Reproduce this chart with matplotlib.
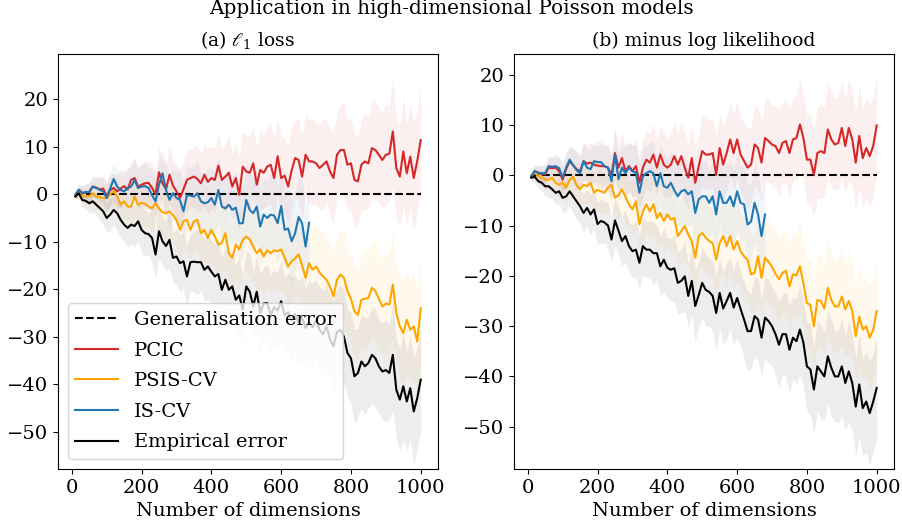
import numpy as np
import matplotlib
matplotlib.use('Agg')
import matplotlib.pyplot as plt

dims = list(range(10, 1001, 10))
dims_is = list(range(10, 681, 10))

# (a) l1 loss
l1_pcic = [
    -0.3, 0.9, 0.3, 0.3, 0.5, 1.6, 1.4, 1.0, 1.2, -0.4,
    0.9, 1.3, 0.6, 1.2, 1.7, 1.0, 3.0, 3.4, 1.6, 2.0,
    2.3, 2.4, 1.3, 0.0, 4.6, 2.3, 1.0, 4.1, 1.8, 0.6,
    -0.8, 1.0, 3.0, 3.4, 3.7, 3.2, 2.3, 4.1, 2.6, 3.4,
    3.0, 6.0, 3.0, 3.7, 4.5, 1.6, 3.4, -0.1, 5.8, 4.8,
    4.5, 6.5, 2.0, 5.1, 4.5, 5.8, 6.2, 3.4, 8.0, 3.4,
    3.9, 1.6, 5.0, 7.6, 7.2, 3.7, 8.3, 6.9, 6.9, 6.5,
    5.5, 6.2, 6.9, 4.8, 3.4, 8.3, 9.3, 9.3, 6.2, 6.5,
    3.0, 2.7, 6.2, 6.9, 6.5, 9.7, 9.3, 8.3, 7.2, 8.3,
    8.5, 13.2, 5.5, 3.7, 9.0, 4.4, 7.9, 3.4, 7.0, 11.4]
l1_psis = [
    -0.1, 0.6, -0.3, -0.5, -0.4, 0.2, -0.5, -0.6, -0.8, -0.8,
    0.0, 0.6, -0.4, -2.2, -1.5, -2.6, -2.6, -0.5, -2.2, -1.8,
    -2.0, -2.6, -3.0, -1.9, -3.0, -3.8, -4.0, -3.6, -4.4, -5.4,
    -7.5, -5.7, -5.4, -7.5, -5.7, -5.4, -8.2, -7.5, -9.2, -7.5,
    -8.9, -10.6, -10.2, -8.2, -12.4, -13.4, -10.6, -11.6, -9.6, -8.9,
    -9.5, -11.0, -12.4, -11.6, -13.1, -11.8, -12.4, -11.8, -12.0, -11.6,
    -13.4, -15.2, -14.1, -13.5, -12.6, -15.0, -17.6, -14.5, -15.9, -15.2,
    -16.5, -17.3, -18.0, -19.5, -21.5, -18.0, -16.9, -17.6, -20.4, -22.0,
    -24.6, -25.4, -22.2, -22.0, -21.8, -19.7, -20.4, -22.0, -23.6, -23.0,
    -23.2, -19.0, -25.0, -27.8, -29.2, -26.4, -28.5, -27.8, -31.0, -24.0]
l1_iscv = [
    -0.1, 0.9, 0.2, 0.5, 0.4, 1.6, 1.3, 0.9, 0.6, -0.8,
    1.2, 3.2, 1.6, 0.9, 0.6, 1.3, 1.6, 3.0, 1.3, 1.6,
    1.7, 1.3, -0.2, -1.5, 2.0, 4.4, 0.9, -1.2, 0.2, -0.8,
    -1.2, -3.6, -0.2, -0.3, -0.5, 0.2, -1.5, -1.9, -1.7, -0.8,
    -2.2, 0.9, -2.6, -3.0, -2.2, -3.3, -2.8, -6.1, -6.1, -1.2,
    -3.3, -4.0, -2.6, -6.8, -4.3, -5.0, -4.3, -4.5, -6.1, -2.5,
    -7.5, -7.2, -9.9, -8.2, -4.8, -6.1, -11.0, -6.0]
l1_emp = [
    -0.5, 0.2, -1.2, -1.4, -1.9, -1.5, -2.2, -2.9, -3.6, -5.0,
    -4.3, -3.3, -4.0, -5.4, -6.4, -7.1, -6.4, -6.7, -5.7, -7.5,
    -8.2, -8.4, -9.2, -12.7, -7.8, -9.9, -10.9, -9.6, -13.4, -13.1,
    -14.5, -14.1, -17.3, -14.3, -14.2, -14.3, -14.3, -15.9, -15.2, -16.3,
    -17.3, -16.8, -20.1, -18.0, -20.1, -19.4, -22.2, -21.3, -24.3, -19.4,
    -20.5, -23.6, -20.5, -25.0, -23.0, -22.9, -25.3, -23.8, -24.5, -22.5,
    -25.5, -24.8, -26.5, -25.2, -27.0, -26.0, -28.2, -26.8, -28.0, -26.5,
    -28.5, -29.5, -27.8, -30.5, -32.0, -29.0, -28.5, -30.0, -33.4, -34.5,
    -38.3, -37.6, -35.2, -36.2, -35.5, -33.8, -34.5, -36.2, -37.3, -37.0,
    -37.6, -33.8, -41.1, -43.2, -40.4, -43.6, -40.8, -45.7, -42.9, -39.0]
l1_spread = [
    0.8, 1.2, 1.5, 1.8, 2.0, 2.3, 2.2, 2.6, 2.8, 3.0,
    3.4, 3.1, 3.6, 3.9, 3.5, 4.2, 4.0, 4.4, 4.1, 4.6,
    4.8, 4.5, 5.2, 4.9, 5.6, 5.0, 5.4, 5.9, 5.3, 5.7,
    6.2, 5.8, 6.5, 6.0, 6.4, 6.9, 6.1, 6.6, 7.0, 6.5,
    6.8, 7.3, 6.7, 7.1, 7.6, 7.0, 7.4, 7.9, 7.2, 7.6,
    8.0, 7.4, 7.8, 8.3, 7.6, 8.1, 8.5, 7.8, 8.2, 8.7,
    8.0, 8.4, 8.9, 8.2, 8.6, 9.1, 8.4, 8.8, 9.2, 8.6,
    9.0, 9.5, 8.8, 9.2, 9.7, 9.0, 9.4, 9.9, 9.2, 9.6,
    10.0, 9.4, 9.8, 10.3, 9.6, 10.0, 10.5, 9.8, 10.2, 10.7,
    10.0, 11.5, 10.4, 10.8, 11.2, 10.5, 10.9, 11.4, 10.7, 11.0]

# (b) minus log likelihood
ll_pcic = [
    -0.2, 0.8, 0.5, 0.2, 0.2, 1.5, 1.4, 1.5, 0.8, -0.9,
    1.2, 2.8, 2.0, 1.2, 0.8, 2.8, 2.3, 2.5, 2.1, 1.9,
    1.8, 1.8, 1.5, 0.0, 4.4, 1.5, 3.4, 0.8, 1.8, 0.8,
    1.8, -1.5, 1.5, 3.1, 2.5, 4.1, 1.5, 4.1, 2.1, 1.5,
    2.1, 3.8, 2.1, 3.8, 1.5, -0.5, 3.4, -1.5, 1.8, 4.8,
    4.1, 4.1, 4.4, 0.1, 5.4, 2.1, 4.4, 7.1, 4.4, 7.1,
    4.1, 2.8, 1.5, 2.1, 6.1, 5.4, 2.5, 7.4, 6.8, 6.1,
    5.8, 4.4, 6.4, 6.8, 4.4, 7.1, 7.4, 10.1, 7.4, 3.1,
    3.1, 0.1, 4.4, 4.8, 4.4, 9.1, 7.1, 6.1, 6.4, 9.4,
    5.8, 9.4, 7.1, 2.5, 7.8, 3.4, 5.4, 3.8, 5.8, 9.9]
ll_psis = [
    -0.2, 0.5, -0.2, -0.5, -0.9, -0.9, -0.5, -1.5, -1.9, -1.5,
    -2.5, -0.9, -0.3, -2.0, -2.8, -1.9, -2.2, -1.5, -3.5, -2.9,
    -3.2, -3.5, -2.5, -1.9, -4.5, -4.0, -2.8, -4.3, -5.8, -6.8,
    -5.2, -9.8, -7.2, -5.8, -7.2, -5.8, -8.5, -7.5, -9.1, -7.8,
    -8.8, -8.5, -12.1, -11.1, -10.1, -11.8, -13.1, -16.4, -12.1, -11.5,
    -12.4, -13.1, -13.5, -16.8, -13.5, -12.1, -14.1, -12.1, -14.8, -13.1,
    -15.1, -16.1, -16.8, -19.7, -19.4, -16.1, -20.4, -16.4, -17.2, -18.2,
    -19.6, -20.7, -19.4, -19.0, -22.1, -19.7, -19.9, -18.1, -21.5, -25.4,
    -25.8, -30.0, -24.8, -25.0, -26.5, -22.4, -24.8, -26.1, -26.1, -24.1,
    -26.7, -25.0, -27.0, -32.0, -28.1, -30.7, -30.0, -32.3, -30.7, -27.0]
ll_iscv = [
    -0.2, 0.8, 0.5, 0.4, 0.4, 1.8, 1.7, 1.8, 1.4, -0.5,
    1.5, 3.1, 2.0, 1.0, 0.4, 2.8, 1.5, 1.2, 2.8, 2.6,
    2.6, 1.8, 1.5, -1.2, 4.1, -0.8, 1.5, 0.4, 1.5, 0.8,
    0.5, -3.5, -0.2, 0.4, 0.8, 0.4, -2.2, 0.4, -2.2, -2.5,
    -1.5, -3.0, -4.2, -3.2, -2.9, -3.8, -3.2, -7.5, -4.8, -4.2,
    -4.2, -5.5, -4.2, -7.8, -3.2, -5.5, -5.5, -4.2, -6.2, -3.2,
    -5.5, -5.8, -9.8, -9.2, -5.5, -7.8, -12.1, -7.8]
ll_emp = [
    -0.5, -0.3, -1.2, -1.5, -2.2, -2.2, -2.8, -3.5, -3.2, -4.5,
    -4.2, -3.2, -4.2, -5.2, -6.2, -7.5, -6.5, -7.8, -6.8, -9.7,
    -9.1, -9.4, -10.0, -12.8, -9.0, -11.0, -13.1, -12.1, -14.1, -15.1,
    -14.8, -17.4, -14.1, -14.8, -14.8, -15.5, -15.5, -18.1, -16.8, -18.4,
    -18.8, -18.5, -21.4, -21.0, -20.1, -24.0, -21.0, -26.0, -23.8, -21.4,
    -22.8, -23.2, -24.0, -27.4, -23.4, -26.5, -25.0, -23.4, -26.3, -24.4,
    -26.6, -28.7, -31.0, -31.0, -28.0, -28.7, -32.3, -28.3, -29.0, -30.0,
    -31.6, -33.7, -31.6, -31.6, -34.7, -32.3, -33.0, -30.7, -33.3, -38.0,
    -38.6, -42.6, -38.0, -39.0, -40.0, -36.0, -38.3, -40.0, -40.0, -38.0,
    -41.3, -39.0, -41.3, -46.0, -41.6, -46.3, -45.0, -47.3, -45.0, -42.3]
ll_spread = [
    0.8, 1.1, 1.4, 1.7, 1.9, 2.1, 2.0, 2.4, 2.6, 2.8,
    3.1, 2.9, 3.3, 3.6, 3.3, 3.8, 3.6, 4.0, 3.8, 4.2,
    4.4, 4.1, 4.7, 4.4, 5.0, 4.6, 4.9, 5.3, 4.8, 5.2,
    5.6, 5.2, 5.8, 5.4, 5.8, 6.2, 5.5, 6.0, 6.3, 5.9,
    6.2, 6.6, 6.1, 6.4, 6.9, 6.3, 6.7, 7.1, 6.5, 6.9,
    7.2, 6.7, 7.1, 7.5, 6.9, 7.3, 7.7, 7.1, 7.4, 7.9,
    7.3, 7.6, 8.1, 7.4, 7.8, 8.3, 7.6, 8.0, 8.4, 7.8,
    8.2, 8.6, 8.0, 8.4, 8.8, 8.2, 8.5, 9.0, 8.4, 8.8,
    9.1, 8.6, 9.0, 9.4, 8.8, 9.2, 9.6, 9.0, 9.3, 9.8,
    9.2, 10.2, 9.5, 9.9, 10.3, 9.6, 10.0, 10.4, 9.8, 10.1]


def draw_panel(ax, pcic, psis, iscv, emp, spread):
    x = np.array(dims)
    xi = np.array(dims_is)
    s = np.array(spread)
    ax.plot(x, np.zeros(len(x)), 'k--', label='Generalisation error')
    for vals, xx, col, lab in [(pcic, x, '#d62728', 'PCIC'),
                               (psis, x, 'orange', 'PSIS-CV'),
                               (iscv, xi, '#1f77b4', 'IS-CV'),
                               (emp, x, 'k', 'Empirical error')]:
        v = np.array(vals)
        ss = s[:len(v)]
        ax.plot(xx, v, color=col, lw=1.5, label=lab)
        ax.fill_between(xx, v - ss, v + ss, color=col, alpha=0.07, lw=0)
    ax.set_xticks([0, 200, 400, 600, 800, 1000])
    ax.set_xlabel('Number of dimensions')


plt.rcParams['font.family'] = 'DejaVu Serif'
plt.rcParams['mathtext.fontset'] = 'dejavuserif'
plt.rcParams['font.size'] = 14

fig = plt.figure(figsize=(9.02, 5.25), dpi=100)
ax1 = fig.add_axes([0.0643, 0.1067, 0.4213, 0.7905])
ax2 = fig.add_axes([0.5698, 0.1067, 0.4213, 0.7905])

draw_panel(ax1, l1_pcic, l1_psis, l1_iscv, l1_emp, l1_spread)
ax1.set_ylim(-57.8, 29.5)
ax1.set_yticks([-50, -40, -30, -20, -10, 0, 10, 20])
ax1.set_title(r'(a) $\ell_1$ loss', fontsize=13.5)
ax1.legend(loc='lower left', fontsize=14, labelspacing=0.65, handlelength=2.2)

draw_panel(ax2, ll_pcic, ll_psis, ll_iscv, ll_emp, ll_spread)
ax2.set_ylim(-58.4, 24.1)
ax2.set_yticks([-50, -40, -30, -20, -10, 0, 10, 20])
ax2.set_title('(b) minus log likelihood', fontsize=13.5)

fig.suptitle('Application in high-dimensional Poisson models', fontsize=14.4, y=0.983, va='center')

fig.savefig('out.png', dpi=100)
